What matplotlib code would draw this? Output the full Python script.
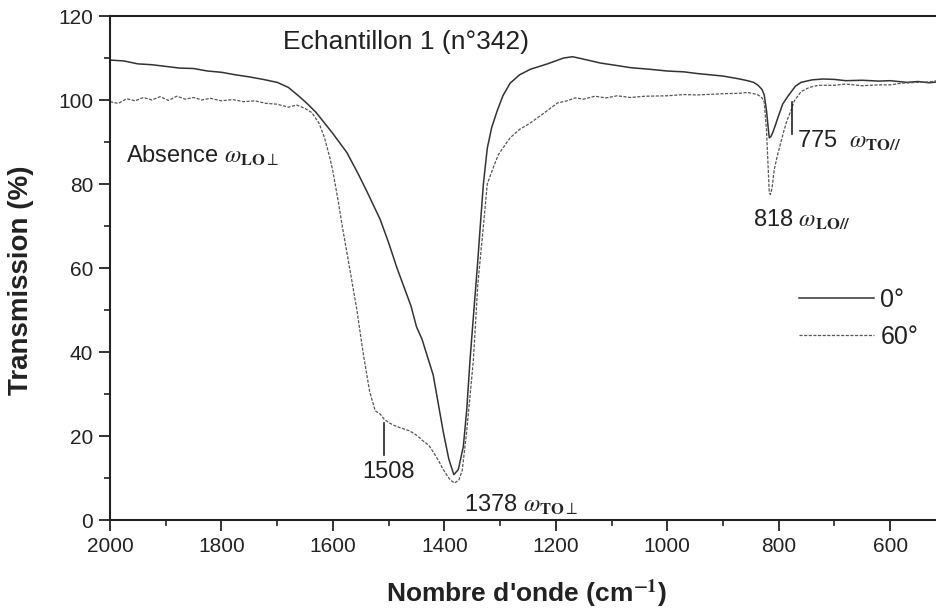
import matplotlib
matplotlib.use("Agg")
import matplotlib.pyplot as plt
from matplotlib.ticker import MultipleLocator

plt.rcParams['font.family'] = ['Liberation Sans', 'DejaVu Sans']
plt.rcParams['mathtext.fontset'] = 'stix'

# ---- data ----
solid_wn = [2000, 1975, 1950, 1925, 1900, 1875, 1850, 1825, 1800, 1775, 1750, 1725, 1700,
            1680, 1660, 1645, 1630, 1615, 1600, 1575, 1555, 1540, 1515, 1500, 1485, 1460,
            1450, 1440, 1420, 1402, 1392, 1383, 1375, 1366, 1360, 1354, 1347, 1341, 1335,
            1330, 1323, 1315, 1305, 1295, 1282, 1265, 1246, 1215, 1186, 1170, 1156, 1120,
            1090, 1066, 1030, 1000, 970, 946, 900, 870, 856, 845, 837, 830, 826, 822, 819,
            817, 814, 810, 806, 801, 793, 783, 770, 760, 740, 720, 700, 680, 650, 620, 600,
            570, 550, 530, 516]
solid_T = [109.5, 109.3, 108.6, 108.4, 108.0, 107.6, 107.5, 106.9, 106.6, 106.0, 105.5, 104.9,
           104.2, 103.0, 100.8, 99.0, 97.0, 94.5, 92.0, 87.5, 82.5, 78.5, 71.5, 66.0, 60.0,
           51.0, 46.0, 43.0, 34.5, 21.0, 14.5, 10.8, 12.0, 17.5, 26.0, 38.0, 50.0, 60.0, 71.0,
           80.0, 88.5, 93.5, 97.5, 101.0, 104.0, 106.0, 107.3, 108.6, 110.0, 110.3, 109.9,
           108.8, 108.2, 107.7, 107.3, 106.9, 106.7, 106.3, 105.7, 105.0, 104.6, 104.2, 103.5,
           102.5, 101.2, 97.5, 93.5, 91.0, 91.3, 92.5, 94.0, 96.0, 99.0, 101.0, 103.3, 104.2,
           104.8, 105.0, 104.9, 104.6, 104.7, 104.5, 104.6, 104.2, 104.4, 104.1, 104.3]

dash_wn = [2000, 1985, 1970, 1955, 1940, 1925, 1910, 1895, 1880, 1865, 1850, 1835, 1820, 1800,
           1780, 1760, 1740, 1720, 1700, 1680, 1665, 1650, 1638, 1625, 1615, 1605, 1600, 1590,
           1582, 1570, 1557, 1546, 1534, 1524, 1515, 1508, 1500, 1490, 1480, 1462, 1450, 1438,
           1428, 1420, 1410, 1402, 1390, 1382, 1374, 1368, 1360, 1348, 1340, 1330, 1323, 1312,
           1303, 1290, 1282, 1265, 1246, 1220, 1197, 1180, 1165, 1150, 1130, 1110, 1090, 1066,
           1040, 1000, 970, 946, 900, 870, 856, 845, 837, 830, 826, 822, 819, 817, 815, 812,
           808, 802, 796, 790, 785, 778, 772, 760, 745, 729, 700, 680, 650, 620, 600, 580, 550,
           530, 516]
dash_T = [99.6, 99.2, 100.3, 99.8, 100.6, 100.0, 100.8, 99.9, 100.9, 100.2, 100.6, 100.0, 100.4,
          99.8, 100.1, 99.6, 99.8, 99.2, 99.0, 98.3, 98.8, 98.0, 97.0, 94.5, 91.0, 86.0, 83.0,
          75.5, 69.0, 60.0, 50.0, 40.0, 30.5, 26.0, 25.2, 24.0, 23.2, 22.5, 22.0, 21.2, 20.2,
          18.8, 17.8, 16.2, 14.0, 12.0, 9.6, 8.8, 9.5, 11.8, 21.0, 38.0, 56.0, 70.0, 80.0, 84.0,
          87.0, 89.5, 91.0, 93.0, 94.5, 97.0, 99.3, 99.8, 100.5, 100.2, 100.9, 100.5, 101.0,
          100.6, 100.9, 101.0, 101.3, 101.2, 101.5, 101.6, 101.8, 101.5, 101.2, 100.5, 99.5,
          93.0, 84.0, 78.0, 77.5, 79.0, 83.5, 87.0, 90.0, 93.0, 95.2, 97.5, 99.8, 102.0, 103.0,
          103.5, 103.5, 103.8, 103.4, 103.6, 103.6, 104.0, 104.2, 104.3, 104.6]

series_labels = ['0°', '60°']
x_ticks = [2000, 1800, 1600, 1400, 1200, 1000, 800, 600]
y_ticks = [0, 20, 40, 60, 80, 100, 120]

# ---- figure ----
fig = plt.figure(figsize=(9.37, 6.11), dpi=100)
ax = fig.add_axes([110/937, 1 - 520/611, 827/937, 504/611])

ax.plot(solid_wn, solid_T, color='#333333', lw=1.1, label=series_labels[0])
ax.plot(dash_wn, dash_T, color='#555555', lw=0.9, ls=(0, (2.5, 1.2)), label=series_labels[1])

ax.set_xlim(2000, 516)
ax.set_ylim(0, 120)
ax.set_xticks(x_ticks)
ax.set_yticks(y_ticks)
ax.xaxis.set_minor_locator(MultipleLocator(100))
ax.yaxis.set_minor_locator(MultipleLocator(10))
ax.tick_params(which='major', direction='out', length=8, width=1.3, labelsize=15,
               colors='#222222', pad=4)
ax.tick_params(which='minor', direction='out', length=4, width=1.2, colors='#222222')
for s in ['left', 'bottom', 'top']:
    ax.spines[s].set_linewidth(1.5)
    ax.spines[s].set_color('#222222')
ax.spines['right'].set_visible(False)

ax.set_ylabel('Transmission (%)', fontsize=20, fontweight='bold', color='#222222')
ax.set_xlabel("Nombre d'onde (cm$^{\\mathbf{-1}}$)", fontsize=19, fontweight='bold',
              color='#222222')
ax.yaxis.set_label_coords(-0.092, 0.476)
ax.xaxis.set_label_coords(0.504, -0.113)

tc = '#222222'
ax.text(1690, 113.8, 'Echantillon 1 (n°342)', fontsize=19, color=tc, va='center', ha='left')
ax.text(1971, 85, r'Absence $\omega_{\mathbf{LO}\perp}$', fontsize=17, color=tc,
        va='baseline', ha='left')
ax.text(1500, 10, '1508', fontsize=17, color=tc, va='baseline', ha='center')
ax.plot([1508, 1508], [15.5, 23], color='#222222', lw=1.2)
ax.text(1364, 1.9, r'1378 $\omega_{\mathbf{TO}\perp}$', fontsize=17, color=tc,
        va='baseline', ha='left')
ax.text(847, 69.8, r'818 $\omega_{\mathbf{LO//}}$', fontsize=17, color=tc,
        va='baseline', ha='left')
ax.text(768, 88.6, r'775  $\omega_{\mathbf{TO//}}$', fontsize=17, color=tc,
        va='baseline', ha='left')
ax.plot([777, 777], [92, 99.5], color='#222222', lw=1.2)

leg = ax.legend(frameon=False, loc='center left', bbox_to_anchor=(0.806, 0.40),
                fontsize=18, handlelength=3.0, handletextpad=0.25, labelspacing=0.5)
for t in leg.get_texts():
    t.set_color(tc)

fig.savefig('out.png', dpi=100)
